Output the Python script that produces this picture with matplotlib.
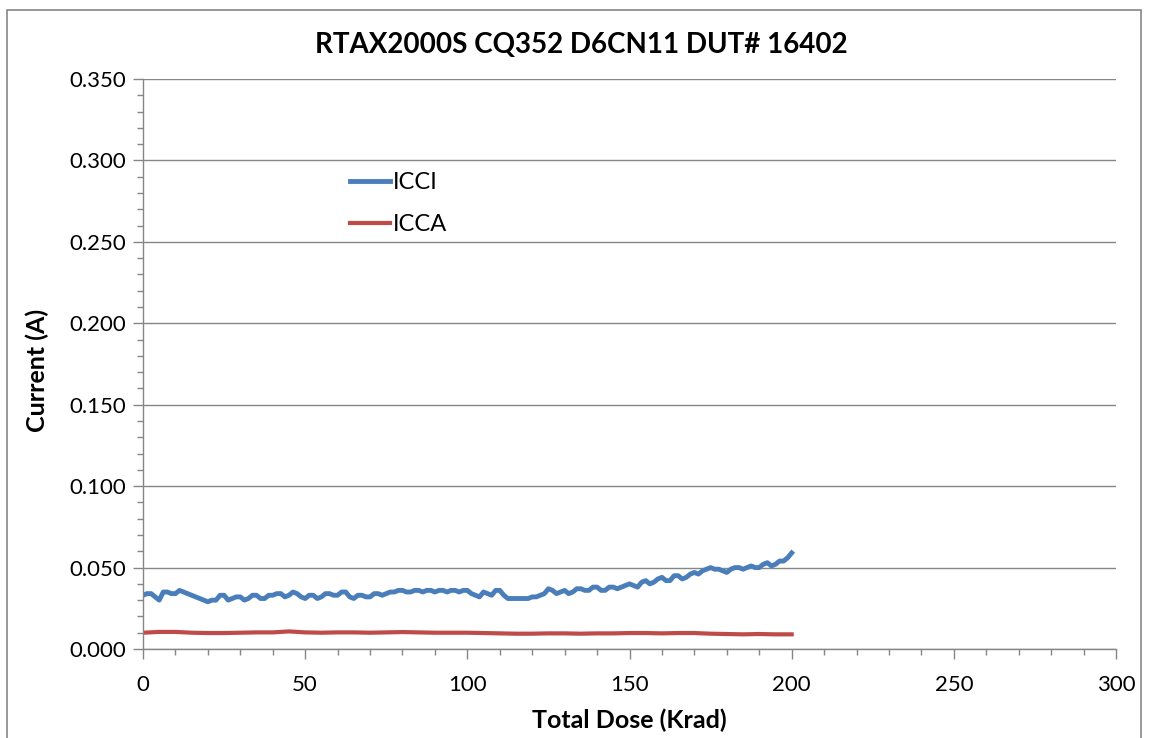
import matplotlib
matplotlib.use('Agg')
import matplotlib.pyplot as plt
from matplotlib.patches import Rectangle
from matplotlib.ticker import MultipleLocator

plt.rcParams['font.family'] = ['Lato', 'DejaVu Sans']

# ICCI, every 1.25 krad
icci_dose = [i * 1.25 for i in range(161)]
icci = [
    0.033, 0.034, 0.034, 0.032, 0.030, 0.035, 0.035, 0.034, 0.034, 0.036,
    0.035, 0.034, 0.033, 0.032, 0.031, 0.030, 0.029, 0.030, 0.030, 0.033,
    0.033, 0.030, 0.031, 0.032, 0.032, 0.030, 0.031, 0.033, 0.033, 0.031,
    0.031, 0.033, 0.033, 0.034, 0.034, 0.032, 0.033, 0.035, 0.034, 0.032,
    0.031, 0.033, 0.033, 0.031, 0.032, 0.034, 0.034, 0.033, 0.033, 0.035,
    0.035, 0.032, 0.031, 0.033, 0.033, 0.032, 0.032, 0.034, 0.034, 0.033,
    0.034, 0.035, 0.035, 0.036, 0.036, 0.035, 0.035, 0.036, 0.036, 0.035,
    0.036, 0.036, 0.035, 0.036, 0.036, 0.035, 0.036, 0.036, 0.035, 0.036,
    0.036, 0.034, 0.033, 0.032, 0.035, 0.034, 0.033, 0.036, 0.036, 0.033,
    0.031, 0.031, 0.031, 0.031, 0.031, 0.031, 0.032, 0.032, 0.033, 0.034,
    0.037, 0.036, 0.034, 0.035, 0.036, 0.034, 0.035, 0.037, 0.037, 0.036,
    0.036, 0.038, 0.038, 0.036, 0.036, 0.038, 0.038, 0.037, 0.038, 0.039,
    0.040, 0.039, 0.038, 0.041, 0.042, 0.040, 0.041, 0.043, 0.044, 0.042,
    0.042, 0.045, 0.045, 0.043, 0.044, 0.046, 0.047, 0.046, 0.048, 0.049,
    0.050, 0.049, 0.049, 0.048, 0.047, 0.049, 0.050, 0.050, 0.049, 0.050,
    0.051, 0.050, 0.050, 0.052, 0.053, 0.051, 0.052, 0.054, 0.054, 0.056,
    0.059,
]

# ICCA, every 5 krad
icca_dose = [i * 5 for i in range(41)]
icca = [
    0.0100, 0.0105, 0.0105, 0.0100, 0.0098, 0.0098, 0.0100, 0.0102, 0.0102, 0.0108,
    0.0102, 0.0100, 0.0102, 0.0102, 0.0100, 0.0102, 0.0104, 0.0102, 0.0100, 0.0100,
    0.0100, 0.0098, 0.0096, 0.0094, 0.0094, 0.0096, 0.0096, 0.0094, 0.0096, 0.0096,
    0.0098, 0.0098, 0.0096, 0.0098, 0.0098, 0.0094, 0.0092, 0.0090, 0.0092, 0.0090,
    0.0090,
]

W, H = 1149, 738
fig = plt.figure(figsize=(W / 100, H / 100), dpi=100)
ax = fig.add_axes([143 / W, 1 - 649 / H, (1116 - 143) / W, (649 - 79) / H])

# chart frame like Excel
fig.patches.append(Rectangle((7 / W, -0.05), (1141 - 7) / W, 1 - 10 / H + 0.05,
                             transform=fig.transFigure, fill=False,
                             edgecolor='#868686', linewidth=1.2))

ax.plot(icci_dose, icci, color='#4A7EBB', linewidth=3.5, label='ICCI')
ax.plot(icca_dose, icca, color='#BE4B48', linewidth=3, label='ICCA')

ax.set_xlim(0, 300)
ax.set_ylim(0, 0.35)
ax.xaxis.set_major_locator(MultipleLocator(50))
ax.xaxis.set_minor_locator(MultipleLocator(10))
ax.yaxis.set_major_locator(MultipleLocator(0.05))
ax.yaxis.set_minor_locator(MultipleLocator(0.01))
ax.yaxis.set_major_formatter(plt.FuncFormatter(lambda v, p: f'{v:.3f}'))

ax.grid(True, axis='y', color='#868686', linewidth=1)
ax.set_axisbelow(True)
for s in ['top', 'right']:
    ax.spines[s].set_visible(False)
for s in ['left', 'bottom']:
    ax.spines[s].set_color('#868686')
    ax.spines[s].set_linewidth(1)

ax.tick_params(which='major', length=7, width=1, color='#868686', labelsize=16, pad=5)
ax.tick_params(which='minor', length=4, width=1, color='#868686')
ax.tick_params(axis='x', pad=12)

fig.text(581 / W, 1 - 45 / H, 'RTAX2000S CQ352 D6CN11 DUT# 16402', fontsize=20,
         fontweight='bold', ha='center', va='center')
fig.text(629 / W, 1 - 720 / H, 'Total Dose (Krad)', fontsize=18,
         fontweight='bold', ha='center', va='center')
fig.text(37 / W, 1 - 370 / H, 'Current (A)', fontsize=18, rotation=90,
         fontweight='bold', ha='center', va='center')

ax.legend(loc='upper left', bbox_to_anchor=(350 / W, 1 - 172 / H),
          bbox_transform=fig.transFigure, frameon=False, fontsize=17,
          borderpad=0, borderaxespad=0, handlelength=1.7, handletextpad=0.1,
          labelspacing=0.9)

fig.savefig('out.png', dpi=100)
